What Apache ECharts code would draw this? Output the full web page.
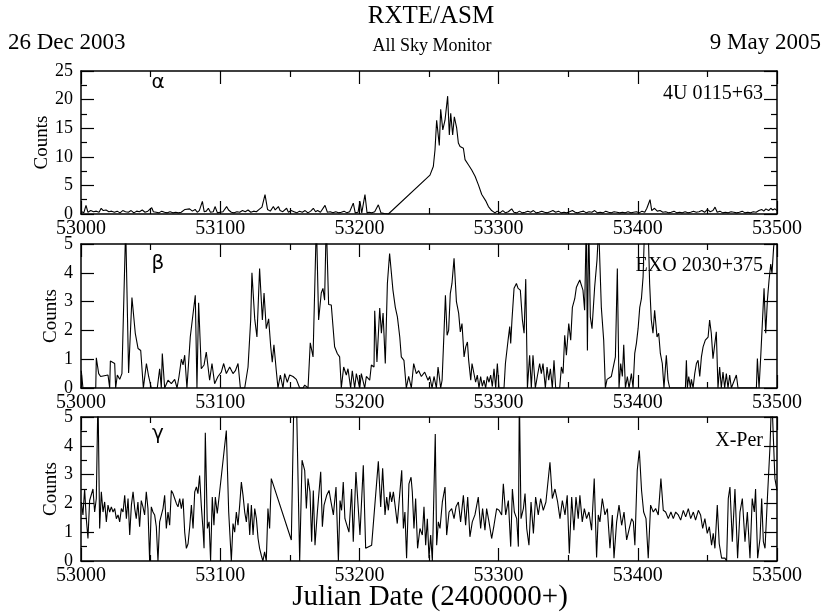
<!DOCTYPE html>
<html>
<head>
<meta charset="utf-8">
<script src="https://cdn.jsdelivr.net/npm/echarts@6/dist/echarts.min.js"></script>
<style>
html,body{margin:0;padding:0;background:#fff;}
#chart{width:824px;height:613px;}
</style>
</head>
<body>
<div id="chart"></div>
<script>
// ---------- DATA ----------
const xTicks = [53000, 53100, 53200, 53300, 53400, 53500];
const panelNames = ['4U 0115+63', 'EXO 2030+375', 'X-Per'];
const panelLetters = ['α', 'β', 'γ'];

// Panel α : 4U 0115+63  (day offset from 53000, counts)
const alphaDays = [0.5,2,3.6,5,7,9,11,13,14.5,16,18,20,22,24,26,28,30,32,34,36,38,40,42,44,46,48,50.8,52,54,56,58,60,62,64,66,68,70,72,74.7,76,78,80,82,83.5,85,87.2,88.5,90,91.5,93,95,96.3,98,100,102,104.6,106,108,110,112,114,116,118,120,122,124,126,128,130,132.2,134,136,138.2,139.5,141.8,143,145,147.7,149,151,153,155,157,159,161,163,165,166.9,168.5,170,172,175.3,177,179,181,183,185,187,189,191,193,195.6,197,199,200.4,201.7,204,205.5,207,209,211,213.6,215.5,218,220.8,
250.7,253.1,254.3,255.5,257.4,258.4,259.9,261.5,263.4,264.6,265.6,267,268.2,269.9,271.1,272.3,274.7,275.9,278.3,280.7,283.1,285.5,287.9,289.1,291,292.7,295,297.4,299,301,303,305,307,309.4,311,313,315,317,319,321,323,325,327,329,331,333,335,337,339,341,343,345,347,349,351,353,355,357,359,361,363,365,367,369,371,373,375,377,379,381,383,385,387,389,391,393,395,397,399,401,403,405,406.5,408.8,410,412,414,416,418,420,422,424,426,428,430,432,434,436,438,440,442,444,446,448,450,452,454,455.5,457,459,461,463,465,467,469,471,473,475,477,479,481,483,485,487,489,490.5,492,494,495.5,497,498.5,500];
const alphaCounts = [0.4,0.2,1.5,0.3,0.6,0.4,0.5,0.3,1.0,0.6,0.7,0.4,0.5,0.3,0.5,0.2,0.6,0.4,0.3,0.6,0.2,0.5,0.4,0.7,0.3,0.5,1.1,0.4,0.3,0.2,0.5,0.3,0.2,0.4,0.2,0.3,0.2,0.3,0.8,0.6,0.9,0.5,0.8,0.3,0.6,2.2,0.4,0.5,1.0,0.3,0.4,1.3,0.2,0.3,0.4,1.3,0.7,0.3,0.2,0.4,0.3,0.6,0.4,0.7,0.3,0.5,0.4,0.8,1.2,3.4,0.8,0.5,1.3,0.7,1.3,0.6,0.4,1.0,0.3,0.6,0.4,0.2,0.5,0.3,0.6,0.2,0.5,1.0,0.4,0.6,0.3,1.5,0.3,0.4,0.2,0.4,0.2,0.3,0.5,0.2,0.4,1.9,0.2,0.3,2.2,0.2,3.4,0.2,0.3,0.2,0.4,1.6,0.2,0.1,0.0,
6.8,8.3,11.2,16.4,12.0,18.3,14.7,16.4,20.6,13.8,17.6,13.8,17.0,15.0,12.4,11.8,11.5,9.5,8.6,7.7,6.6,5.1,3.4,3.1,2.2,1.3,0.6,0.2,0.5,0.2,0.6,0.2,0.4,0.9,0.3,0.2,0.5,0.2,0.3,0.5,0.3,0.6,0.2,0.3,0.5,0.3,0.2,0.4,0.6,0.3,0.5,0.2,0.3,0.2,0.4,0.6,0.3,0.2,0.4,0.5,0.2,0.4,0.3,0.6,0.2,0.3,0.2,0.5,0.3,0.2,0.4,0.3,0.2,0.3,0.2,0.4,0.2,0.3,0.4,0.2,0.5,0.3,1.0,2.5,0.6,1.0,0.5,0.6,0.3,0.4,0.2,0.3,0.5,0.2,0.3,0.2,0.4,0.2,0.3,0.5,0.3,0.4,0.6,0.3,0.8,0.4,0.6,1.2,0.3,0.5,0.2,0.3,0.2,0.4,0.3,0.2,0.3,0.5,0.2,0.3,0.2,0.4,0.3,0.6,0.8,0.5,0.9,0.6,1.0,0.7,0.9,0.6];

// Panel β : EXO 2030+375
const betaDays = [0.2,1.4,10.6,11.0,12.7,14.1,19.4,20.6,21.1,24.2,24.9,26.1,27.8,29.4,32.1,34.2,36.6,39.0,41.0,42.9,44.8,47.0,48.6,50.5,54.8,56.5,57.7,58.4,60.1,62.5,64.9,67.3,69.0,70.4,72.1,73.3,74.5,76.1,78.5,80.0,81.2,82.1,83.3,84.5,86.4,88.4,90.0,92.4,94.1,96.0,98.4,100.8,102.5,104.4,106.8,109.2,110.9,112.8,114.5,117.6,120.0,121.9,122.8,124.8,126.4,128.3,130.3,131.5,133.1,134.8,136.3,137.4,138.6,140.3,141.5,143.2,145.1,146.3,148.2,149.9,152.3,154.7,157.1,159.5,160.7,163.1,164.7,166.7,169.1,170.7,172.6,173.8,175.0,176.2,177.9,179.8,181.0,182.2,184.1,185.8,187.0,188.7,190.6,191.8,193.7,194.9,196.6,197.8,200.2,201.4,203.8,205.0,207.4,208.6,210.5,211.0,212.6,214.6,215.8,217.0,218.6,220.1,221.7,224.1,225.8,227.3,229.0,230.1,232.0,233.7,235.4,237.3,239.0,240.9,242.6,244.5,246.9,249.3,
250.5,252.2,253.6,255.3,256.5,258.4,259.4,260.8,261.8,263.0,264.1,265.3,266.5,268.0,269.7,271.3,272.5,273.7,275.2,276.4,277.6,278.5,280.0,280.9,282.3,283.5,284.7,285.9,287.1,288.3,289.5,290.7,291.9,293.1,294.3,295.5,296.7,297.9,299.1,300.3,303.9,304.9,306.8,308.0,308.7,309.6,311.1,312.8,314.0,315.6,317.1,318.3,319.5,320.7,322.3,323.5,324.7,326.4,327.8,329.5,330.7,331.9,333.6,334.8,336.0,337.2,338.6,339.8,341.0,343.9,345.1,346.3,347.5,348.7,350.4,351.8,353.0,354.7,355.9,357.1,358.3,359.5,360.6,361.8,363.0,363.8,364.7,365.9,367.1,369.0,370.7,371.9,373.8,375.5,376.7,377.9,381.0,382.2,383.9,385.3,386.5,387.7,388.9,389.9,391.1,392.5,393.7,395.4,396.6,397.8,399.0,400.2,401.4,402.6,403.8,405.0,406.1,407.3,408.5,409.7,410.9,412.1,413.8,415.0,416.2,417.6,418.8,420.5,421.7,422.9,434.2,434.9,435.6,436.6,437.8,438.5,439.7,440.9,442.1,443.3,444.5,445.7,446.9,448.5,450.5,451.6,452.8,454.0,455.2,456.4,457.6,458.8,460.0,461.2,462.4,463.6,464.8,466.0,467.2,470.8,472.0,485.2,485.9,487.1,488.3,489.5,490.7,491.9,493.1,494.3,495.5,496.4,497.6,499.5];
const betaCounts = [0.6,0,0,1.05,0.5,0.4,0.45,0,0.94,0.85,0,0.45,0.3,0.5,5.6,0.52,3.14,1.9,1.37,1.3,0,0.85,0.4,0,0,0.67,0,1.2,0,0.27,0.15,0.3,0,0.4,1.0,0.8,1.14,0,1.77,2.38,2.38,3.22,0,2.96,0.67,0.8,1.25,0.27,0.85,0.15,0.4,0.55,0.85,0.5,0.73,0.5,0.6,0.85,0,0,0.73,2.36,4.0,2.4,1.77,4.15,2.36,3.3,2.06,2.4,1.43,0.9,1.5,0.6,0,0.45,0,0.5,0.2,0.45,0.4,0.3,0,0,0.1,0,1.57,1.08,5.8,2.36,3.3,3.46,3.05,5.8,2.9,2.88,2.15,1.43,1.2,1.08,0,0.73,0.45,0.67,0,0.6,0,0.5,0,0.5,0,0.4,0.27,0.8,0.73,2.68,0.9,2.78,1.9,2.6,0.85,3.63,4.67,3.4,2.8,2.47,1.77,1.08,0.96,0,0.4,0,0.85,0.5,0.6,0.4,0.55,0.27,
0.4,0,0.4,0,0.73,0,0.27,1.95,3.22,1.83,2.0,3.28,3.63,4.5,3.0,2.6,1.95,2.24,1.08,1.43,1.6,0.96,0.27,0.85,0.85,0.2,0.45,0,0.4,0.06,0.27,0,0.4,0.2,0.45,0.05,0.67,0,0.85,0,0,0.85,1.66,2.13,1.55,2.36,3.46,3.63,3.46,3.4,2.36,1.9,3.78,0,1.14,0,1.14,0,0.4,0.85,0.5,0.85,0,0.73,0.27,0.67,0,0.96,0,0,0.73,0.5,1.83,1.14,2.24,1.66,2.8,3.1,3.5,3.63,3.75,3.7,3.4,2.7,5.8,1.3,5.8,2.47,2.06,3.5,4.45,5.6,2.8,1.66,0,0.3,0.4,0.45,1.08,4.15,0,0.85,0.4,1.5,0,0.4,0,0.5,0,1.2,1.55,2.06,2.8,3.1,3.86,5.8,5.9,5.8,3.63,2.36,1.9,2.7,1.77,1.9,1.2,0.85,0,1.14,0.27,0,0,0.96,0,0.4,0,0.3,0,0.5,0.85,0.96,0.4,1.08,1.43,1.66,1.77,2.36,1.9,1.02,0.96,1.95,0,0.73,0,0.55,0,0.5,0,0.45,0,0.45,0,0,1.02,0,1.08,1.14,3.46,1.9,3.05,3.75,4.3,3.98,4.9,5.6];

// Panel γ : X-Per
const gammaDays = [0.2,1.4,2.6,3.8,5.0,6.2,7.4,8.6,9.8,11.0,12.2,13.4,14.6,15.8,17.0,18.2,19.4,20.6,21.8,23.0,24.2,25.4,26.6,27.8,29.0,30.2,31.4,32.6,33.8,35.0,36.2,37.4,38.6,39.7,40.9,42.1,43.3,44.5,45.7,46.9,48.1,49.3,50.5,51.7,52.9,54.1,55.3,56.5,57.7,58.9,60.1,61.3,62.5,63.7,64.9,66.1,67.3,68.5,69.7,70.9,72.1,73.3,74.5,75.7,76.9,78.1,79.3,80.5,81.7,82.9,84.0,85.2,86.4,87.6,88.4,89.3,90.8,92.0,93.1,94.3,95.5,96.5,97.9,104.4,106.1,108.0,109.2,110.4,111.6,112.8,114.0,115.2,116.4,117.6,118.8,120.0,121.2,122.4,123.6,124.8,126.0,127.2,128.3,129.5,130.7,131.9,133.1,134.3,135.5,136.7,151.1,153.0,154.7,157.1,158.8,160.7,161.9,163.1,
164.5,165.7,166.9,168.1,169.8,172.2,173.4,174.6,176.5,178.2,179.6,181.3,183.2,184.9,186.1,187.2,188.4,189.6,190.8,192.5,194.4,195.6,197.5,199.2,200.4,201.6,202.8,204.5,208.8,213.6,215.3,216.7,218.4,219.6,220.8,222.0,223.2,224.4,225.6,227.2,230.4,231.6,232.7,233.9,235.6,237.1,238.0,239.2,240.4,241.8,243.5,245.2,246.4,247.6,248.8,250.0,251.2,252.4,253.4,254.5,255.5,256.7,257.9,259.6,261.5,262.7,264.4,266.3,268.0,269.4,271.1,272.7,274.7,276.3,277.8,279.4,281.1,283.0,285.4,287.1,288.5,290.2,291.4,293.1,295.0,296.7,298.6,300.3,302.2,303.4,305.1,307.0,308.7,309.9,311.3,313.0,314.2,314.9,316.1,317.8,319.0,320.2,321.8,323.3,325.0,326.6,328.5,330.2,332.1,334.0,
336.9,338.6,340.5,342.4,344.1,345.8,347.7,349.3,350.8,352.5,354.1,355.6,357.2,358.4,360.1,361.6,363.2,364.9,366.8,368.7,370.4,371.6,372.8,374.5,376.4,378.1,380.0,381.7,382.9,384.8,386.5,388.4,390.1,392.0,393.9,395.6,396.8,397.9,399.6,401.1,402.7,404.2,405.9,407.5,409.2,411.1,412.8,414.7,416.6,418.3,420.0,421.9,423.8,425.5,427.2,429.1,430.8,432.7,434.4,436.3,438.0,439.9,441.5,443.5,445.1,446.6,448.2,449.9,451.4,453.0,454.2,455.4,457.1,458.5,460.2,462.6,463.8,465.0,466.2,467.9,469.8,471.7,473.4,475.1,477.0,478.7,480.6,482.2,483.7,484.6,486.1,487.8,489.0,490.2,491.4,493.1,495.0,496.2,497.4,498.5,500.0];
const gammaCounts = [2.05,1.6,2.5,1.47,0.78,2.1,2.05,2.5,1.7,2.17,5.8,1.13,2.4,1.7,2.05,1.36,1.94,1.7,1.88,1.7,1.82,1.47,1.6,1.36,1.82,1.7,2.28,1.47,2.17,0.9,1.94,2.4,1.82,1.47,2.05,1.19,2.1,1.88,1.6,2.4,1.82,0,1.88,1.7,1.6,1.19,0,1.36,1.36,1.82,2.28,1.13,1.7,1.24,2.45,2.34,2.17,2.0,1.88,2.17,1.82,2.17,1.0,0.44,0.6,1.19,1.94,1.13,2.4,2.57,2.34,2.97,1.94,1.13,0.44,4.45,1.13,1.36,0,2.22,1.24,2.22,1.65,4.53,1.7,0,1.3,1.0,1.7,1.24,1.94,2.74,2.28,1.7,1.36,2.0,0.9,1.94,0.9,1.82,1.47,0.78,0.44,0.2,0,0.32,0,1.82,1.13,2.86,0.73,5.8,5.8,0,3.5,3.15,1.82,2.86,
2.4,0.67,2.45,0.55,1.7,3.1,1.19,1.94,2.28,2.45,2.05,1.6,2.57,0,2.1,1.76,2.74,1.47,1.42,1.0,2.5,0.67,3.09,1.82,0.9,0.96,3.32,0.44,0.55,3.46,1.88,3.22,1.6,2.22,1.76,2.4,2.05,2.4,1.94,1.3,3.15,1.13,1.7,0.1,2.68,2.91,2.4,1.13,2.17,0.44,1.13,0.9,1.88,0.55,1.47,0.1,0.9,0,0,4.41,0.55,1.36,1.13,2.05,2.57,0.9,1.7,1.82,1.47,1.88,2.05,1.36,2.28,1.24,2.22,0.84,1.36,1.6,2.22,1.13,1.82,1.07,1.82,1.36,0.78,1.24,1.82,1.76,1.6,2.68,1.6,2.1,0.5,2.5,1.7,1.47,0.5,5.8,1.47,1.82,2.34,1.13,0.55,2.05,0.96,2.22,1.6,2.17,1.76,2.05,
3.43,2.17,2.5,2.05,1.47,2.1,1.6,2.28,0.26,2.22,1.07,2.22,1.47,2.28,1.36,1.82,1.47,1.7,1.07,2.86,0.12,1.6,1.36,2.17,1.6,1.82,0.44,1.6,0.1,1.36,1.94,1.24,1.7,0.73,1.13,1.47,1.36,0.55,3.15,3.84,2.45,1.7,1.47,0.1,1.94,1.7,1.82,1.6,2.86,1.76,1.7,1.47,1.7,1.47,1.7,1.6,1.42,1.76,1.53,1.82,1.47,1.7,1.42,1.76,1.6,1.13,1.47,0.96,1.19,0.55,0.96,0.44,1.94,0.6,0.1,0.1,0,2.17,2.57,0.67,2.5,0.1,1.7,2.17,0.67,1.7,0.1,2.17,1.7,2.5,0.1,0.78,2.17,0.67,0.44,2.17,4.0,5.8,5.8,2.86,2.45];

// ---------- CHART ----------
const JD0 = 53000;
function pairs(days, counts){ return days.map((d,i)=>[JD0 + d, counts[i]]); }
const seriesData = [pairs(alphaDays, alphaCounts), pairs(betaDays, betaCounts), pairs(gammaDays, gammaCounts)];
const yMax = [25, 5, 5];
const yInt = [5, 1, 1];
const yMinor = [true, false, true];

const SERIF = '"Liberation Serif","Times New Roman",serif';
const grids = [
  {left:81, top:71, width:696, height:143},
  {left:81, top:244, width:696, height:144},
  {left:81, top:417, width:696, height:144}
];
const lineStyle = {color:'#000', width:1.5};
const xAxes = [], yAxes = [], series = [];
grids.forEach((g, i) => {
  const tickBase = {show:true, inside:true, length:13, lineStyle:{color:'#000', width:1.2}};
  const minorBase = {show:true, splitNumber:2, length:6, lineStyle:{color:'#000', width:1.2}};
  xAxes.push({type:'value', gridIndex:i, position:'bottom', min:xTicks[0], max:xTicks[xTicks.length-1], interval:100,
    axisLine:{show:true, onZero:false, lineStyle}, axisTick:tickBase, minorTick:minorBase,
    splitLine:{show:false},
    axisLabel:{show:true, color:'#000', fontFamily:SERIF, fontSize:20, margin:5, showMinLabel:true, showMaxLabel:true,
      formatter: v => String(v)}});
  xAxes.push({type:'value', gridIndex:i, position:'top', min:xTicks[0], max:xTicks[xTicks.length-1], interval:100,
    axisLine:{show:true, onZero:false, lineStyle}, axisTick:tickBase, minorTick:minorBase,
    splitLine:{show:false}, axisLabel:{show:false}});
  const yMinorTick = Object.assign({}, minorBase, {show:yMinor[i]});
  yAxes.push({type:'value', gridIndex:i, position:'left', min:0, max:yMax[i], interval:yInt[i],
    axisLine:{show:true, onZero:false, lineStyle}, axisTick:tickBase, minorTick:yMinorTick,
    splitLine:{show:false},
    axisLabel:{show:true, color:'#000', fontFamily:SERIF, fontSize:18, margin:8},
    name:'Counts', nameLocation:'middle', nameRotate:90, nameGap: i===0 ? 29 : 20, nameMoveOverlap:false,
    nameTextStyle:{color:'#000', fontFamily:SERIF, fontSize:19}});
  yAxes.push({type:'value', gridIndex:i, position:'right', min:0, max:yMax[i], interval:yInt[i],
    axisLine:{show:true, onZero:false, lineStyle}, axisTick:tickBase, minorTick:yMinorTick,
    splitLine:{show:false}, axisLabel:{show:false}});
  series.push({type:'line', xAxisIndex:2*i, yAxisIndex:2*i, data:seriesData[i], showSymbol:false,
    symbol:'none', clip:true, lineStyle:{color:'#000', width:1.1}, animation:false});
});

const graphic = [
  {type:'text', x:431, y:16, style:{text:'RXTE/ASM', font:'25px '+SERIF, fill:'#000', textAlign:'center', textVerticalAlign:'middle'}},
  {type:'text', x:432, y:46, style:{text:'All Sky Monitor', font:'18px '+SERIF, fill:'#000', textAlign:'center', textVerticalAlign:'middle'}},
  {type:'text', x:8, y:43, style:{text:'26 Dec 2003', font:'23px '+SERIF, fill:'#000', textAlign:'left', textVerticalAlign:'middle'}},
  {type:'text', x:821, y:43, style:{text:'9 May 2005', font:'23px '+SERIF, fill:'#000', textAlign:'right', textVerticalAlign:'middle'}},
  {type:'text', x:430, y:597, style:{text:'Julian Date (2400000+)', font:'29px '+SERIF, fill:'#000', textAlign:'center', textVerticalAlign:'middle'}}
];
const letterY = [83, 264, 434];
const nameY = [94, 266, 441];
grids.forEach((g,i)=>{
  graphic.push({type:'text', x:158, y:letterY[i], style:{text:panelLetters[i], font:'20px "DejaVu Sans",sans-serif', fill:'#000', textAlign:'center', textVerticalAlign:'middle'}});
  graphic.push({type:'text', x:763, y:nameY[i], style:{text:panelNames[i], font:'20px '+SERIF, fill:'#000', textAlign:'right', textVerticalAlign:'middle'}});
});

const chart = echarts.init(document.getElementById('chart'), null, {renderer:'canvas'});
chart.setOption({
  animation:false,
  backgroundColor:'#fff',
  grid: grids,
  xAxis: xAxes,
  yAxis: yAxes,
  series: series,
  graphic: graphic
});
</script>
</body>
</html>
